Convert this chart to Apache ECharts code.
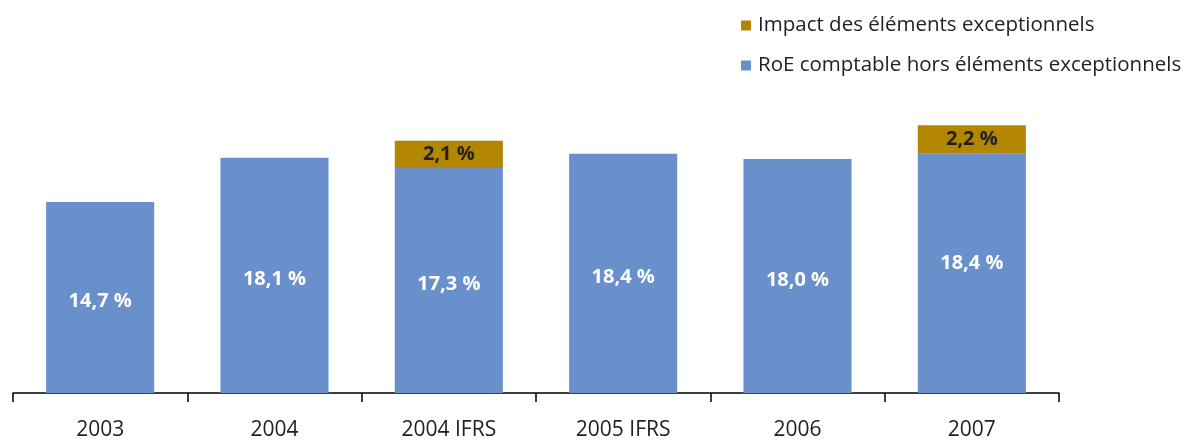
<!DOCTYPE html>
<html>
<head>
<meta charset="utf-8">
<style>
html,body{margin:0;padding:0;background:#fff;}
#chart{width:1189px;height:443px;}
</style>
<script src="https://cdn.jsdelivr.net/npm/echarts@6/dist/echarts.min.js"></script>
</head>
<body>
<div id="chart"></div>
<script>
const categories = ['2003', '2004', '2004 IFRS', '2005 IFRS', '2006', '2007'];
const roeValues = [14.7, 18.1, 17.3, 18.4, 18.0, 18.4];
const impactValues = [null, null, 2.1, null, null, 2.2];
const seriesNames = ['RoE comptable hors éléments exceptionnels', 'Impact des éléments exceptionnels'];

function fmt(v) { return v.toFixed(1).replace('.', ',') + ' %'; }

const chart = echarts.init(document.getElementById('chart'));
const labelFont = '"Open Sans", "Noto Sans", sans-serif';
chart.setOption({
  animation: false,
  backgroundColor: '#fff',
  legend: {
    orient: 'vertical',
    left: 736,
    top: 10,
    itemWidth: 10,
    itemHeight: 10,
    itemGap: 19,
    icon: 'rect',
    data: [seriesNames[1], seriesNames[0]],
    textStyle: { fontSize: 20.5, color: '#222', fontFamily: labelFont, padding: [0, 0, 0, 2] }
  },
  grid: { left: 13, right: 130, top: 68, bottom: 50 },
  xAxis: {
    type: 'category',
    data: categories,
    axisLine: { lineStyle: { color: '#000', width: 1.5 } },
    axisTick: { show: true, alignWithLabel: false, length: 9, lineStyle: { color: '#000', width: 1.5 } },
    axisLabel: { fontSize: 21, color: '#222', fontFamily: labelFont, margin: 27 }
  },
  yAxis: { type: 'value', min: 0, max: 25, show: false, splitLine: { show: false } },
  series: [
    {
      name: seriesNames[0],
      type: 'bar',
      stack: 'roe',
      barWidth: '62%',
      itemStyle: { color: '#6A90CB' },
      label: {
        show: true, position: 'inside', offset: [0, 4],
        color: '#fff', fontWeight: 'bold', fontSize: 20, fontFamily: labelFont,
        formatter: p => fmt(p.value)
      },
      data: roeValues.map((v, i) => i === 5 ? { value: v, label: { offset: [0, -10] } } : v)
    },
    {
      name: seriesNames[1],
      type: 'bar',
      stack: 'roe',
      barWidth: '62%',
      itemStyle: { color: '#B38600' },
      label: {
        show: true, position: 'inside',
        color: '#222', fontWeight: 'bold', fontSize: 20, fontFamily: labelFont,
        formatter: p => p.value == null ? '' : fmt(p.value)
      },
      data: impactValues
    }
  ]
});
</script>
</body>
</html>
